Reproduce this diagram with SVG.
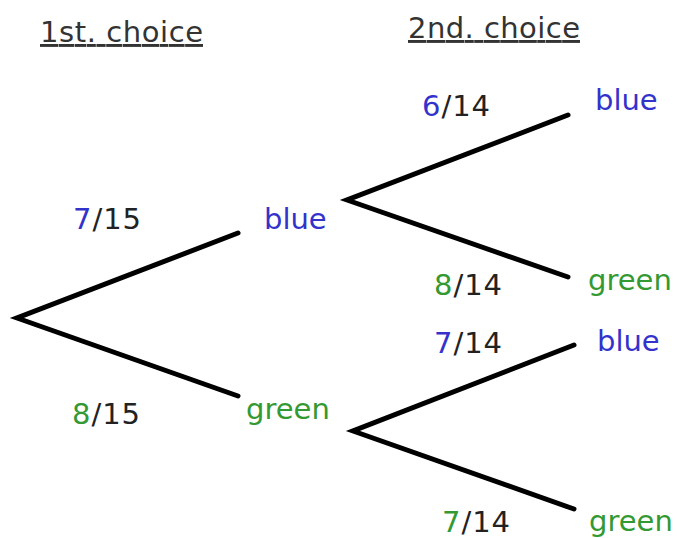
<svg xmlns="http://www.w3.org/2000/svg" width="677" height="538" viewBox="0 0 677 538">
<style>
text{font-family:"DejaVu Sans",Verdana,sans-serif;font-size:29px;fill:#222}
.b{fill:#3333cc}
.g{fill:#339933}
.h{fill:#333;text-decoration:underline}
.e{stroke:#000;stroke-width:5;fill:none;stroke-linecap:round}
</style>
<rect width="677" height="538" fill="#fff"/>
<g id="headers">
<text class="h" x="40" y="42" textLength="163" lengthAdjust="spacing">1st. choice</text>
<text class="h" x="408" y="38" textLength="172" lengthAdjust="spacing">2nd. choice</text>
</g>
<g id="connectors">
<path class="e" d="M238,233 L17,318 L238,396"/>
<path class="e" d="M568,115 L347,200 L568,277"/>
<path class="e" d="M574,345 L353,431 L574,509"/>
</g>
<g id="node-blue1"><text class="b" x="264" y="229">blue</text></g>
<g id="node-green1"><text class="g" x="246" y="419">green</text></g>
<g id="node-blue-blue"><text class="b" x="595" y="110">blue</text></g>
<g id="node-blue-green"><text class="g" x="588" y="290">green</text></g>
<g id="node-green-blue"><text class="b" x="597" y="351">blue</text></g>
<g id="node-green-green"><text class="g" x="589" y="531">green</text></g>
<g id="labels">
<text x="73" y="229" textLength="68" lengthAdjust="spacing"><tspan class="b">7</tspan>/15</text>
<text x="72" y="424" textLength="68" lengthAdjust="spacing"><tspan class="g">8</tspan>/15</text>
<text x="422" y="116" textLength="68" lengthAdjust="spacing"><tspan class="b">6</tspan>/14</text>
<text x="434" y="295" textLength="68" lengthAdjust="spacing"><tspan class="g">8</tspan>/14</text>
<text x="434" y="353" textLength="68" lengthAdjust="spacing"><tspan class="b">7</tspan>/14</text>
<text x="442" y="532" textLength="68" lengthAdjust="spacing"><tspan class="g">7</tspan>/14</text>
</g>
</svg>
